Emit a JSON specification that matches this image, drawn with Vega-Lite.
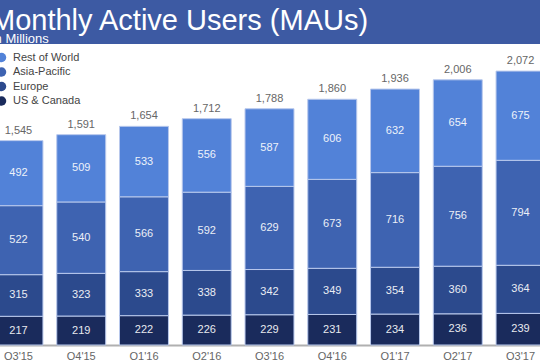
{
  "$schema": "https://vega.github.io/schema/vega-lite/v6.json",
  "autosize": "none",
  "padding": {"top": 44, "left": 0, "right": 0, "bottom": 0},
  "width": 540,
  "height": 316,
  "background": "#3d5aa3",
  "view": {"fill": "white", "stroke": null},
  "title": {
    "text": "Monthly Active Users (MAUs)",
    "subtitle": "In Millions",
    "anchor": "start",
    "frame": "group",
    "orient": "top",
    "dx": -9,
    "offset": -2,
    "font": "Liberation Sans",
    "fontSize": 29,
    "fontWeight": "normal",
    "color": "white",
    "subtitleFont": "Liberation Sans",
    "subtitleFontSize": 13,
    "subtitleColor": "white",
    "subtitlePadding": -3
  },
  "datasets": {
    "segments": [
      {"quarter": "Q3'15", "region": "US & Canada", "value": 217},
      {"quarter": "Q3'15", "region": "Europe", "value": 315},
      {"quarter": "Q3'15", "region": "Asia-Pacific", "value": 522},
      {"quarter": "Q3'15", "region": "Rest of World", "value": 492},
      {"quarter": "Q4'15", "region": "US & Canada", "value": 219},
      {"quarter": "Q4'15", "region": "Europe", "value": 323},
      {"quarter": "Q4'15", "region": "Asia-Pacific", "value": 540},
      {"quarter": "Q4'15", "region": "Rest of World", "value": 509},
      {"quarter": "Q1'16", "region": "US & Canada", "value": 222},
      {"quarter": "Q1'16", "region": "Europe", "value": 333},
      {"quarter": "Q1'16", "region": "Asia-Pacific", "value": 566},
      {"quarter": "Q1'16", "region": "Rest of World", "value": 533},
      {"quarter": "Q2'16", "region": "US & Canada", "value": 226},
      {"quarter": "Q2'16", "region": "Europe", "value": 338},
      {"quarter": "Q2'16", "region": "Asia-Pacific", "value": 592},
      {"quarter": "Q2'16", "region": "Rest of World", "value": 556},
      {"quarter": "Q3'16", "region": "US & Canada", "value": 229},
      {"quarter": "Q3'16", "region": "Europe", "value": 342},
      {"quarter": "Q3'16", "region": "Asia-Pacific", "value": 629},
      {"quarter": "Q3'16", "region": "Rest of World", "value": 587},
      {"quarter": "Q4'16", "region": "US & Canada", "value": 231},
      {"quarter": "Q4'16", "region": "Europe", "value": 349},
      {"quarter": "Q4'16", "region": "Asia-Pacific", "value": 673},
      {"quarter": "Q4'16", "region": "Rest of World", "value": 606},
      {"quarter": "Q1'17", "region": "US & Canada", "value": 234},
      {"quarter": "Q1'17", "region": "Europe", "value": 354},
      {"quarter": "Q1'17", "region": "Asia-Pacific", "value": 716},
      {"quarter": "Q1'17", "region": "Rest of World", "value": 632},
      {"quarter": "Q2'17", "region": "US & Canada", "value": 236},
      {"quarter": "Q2'17", "region": "Europe", "value": 360},
      {"quarter": "Q2'17", "region": "Asia-Pacific", "value": 756},
      {"quarter": "Q2'17", "region": "Rest of World", "value": 654},
      {"quarter": "Q3'17", "region": "US & Canada", "value": 239},
      {"quarter": "Q3'17", "region": "Europe", "value": 364},
      {"quarter": "Q3'17", "region": "Asia-Pacific", "value": 794},
      {"quarter": "Q3'17", "region": "Rest of World", "value": 675}
    ],
    "totals": [
      {"quarter": "Q3'15", "total": 1545},
      {"quarter": "Q4'15", "total": 1591},
      {"quarter": "Q1'16", "total": 1654},
      {"quarter": "Q2'16", "total": 1712},
      {"quarter": "Q3'16", "total": 1788},
      {"quarter": "Q4'16", "total": 1860},
      {"quarter": "Q1'17", "total": 1936},
      {"quarter": "Q2'17", "total": 2006},
      {"quarter": "Q3'17", "total": 2072}
    ]
  },
  "encoding": {
    "x": {
      "field": "quarter",
      "type": "nominal",
      "sort": null,
      "scale": {"range": [-6, 545], "paddingInner": 0.22, "paddingOuter": 0},
      "axis": {
        "title": null,
        "offset": -15,
        "labelAngle": 0,
        "ticks": false,
        "domainColor": "#b0b0b0",
        "domainWidth": 2,
        "labelColor": "#666666",
        "labelFont": "Liberation Sans",
        "labelFontSize": 11,
        "labelPadding": 5
      }
    }
  },
  "layer": [
    {
      "data": {"name": "segments"},
      "transform": [
        {"calculate": "indexof(['US & Canada','Europe','Asia-Pacific','Rest of World'], datum.region)", "as": "stackRank"}
      ],
      "mark": {"type": "bar", "stroke": "#b8c8ec", "strokeWidth": 1},
      "encoding": {
        "y": {
          "field": "value",
          "type": "quantitative",
          "stack": "zero",
          "scale": {"domain": [-113.5, 2277], "nice": false, "zero": false},
          "axis": null
        },
        "color": {
          "field": "region",
          "type": "nominal",
          "scale": {
            "domain": ["Rest of World", "Asia-Pacific", "Europe", "US & Canada"],
            "range": ["#5282d8", "#3e63b1", "#2c4a8d", "#1a2b5c"]
          },
          "legend": {
            "title": null,
            "orient": "none",
            "legendX": -4,
            "legendY": 8,
            "symbolType": "circle",
            "symbolSize": 90,
            "symbolStrokeWidth": 0,
            "rowPadding": 2.5,
            "labelFont": "Liberation Sans",
            "labelFontSize": 11,
            "labelColor": "#444444",
            "labelOffset": 6
          }
        },
        "order": {"field": "stackRank", "type": "quantitative", "sort": "ascending"}
      }
    },
    {
      "data": {"name": "segments"},
      "transform": [
        {"calculate": "indexof(['US & Canada','Europe','Asia-Pacific','Rest of World'], datum.region)", "as": "stackRank"}
      ],
      "mark": {"type": "text", "color": "white", "font": "Liberation Sans", "fontSize": 11, "opacity": 0.9},
      "encoding": {
        "y": {"field": "value", "type": "quantitative", "stack": "zero", "bandPosition": 0.5},
        "detail": {"field": "region", "type": "nominal"},
        "order": {"field": "stackRank", "type": "quantitative", "sort": "ascending"},
        "text": {"field": "value", "type": "quantitative"}
      }
    },
    {
      "data": {"name": "totals"},
      "mark": {"type": "text", "color": "#666666", "font": "Liberation Sans", "fontSize": 11, "baseline": "bottom", "dy": -5},
      "encoding": {
        "y": {"field": "total", "type": "quantitative"},
        "text": {"field": "total", "type": "quantitative", "format": ","}
      }
    }
  ]
}
